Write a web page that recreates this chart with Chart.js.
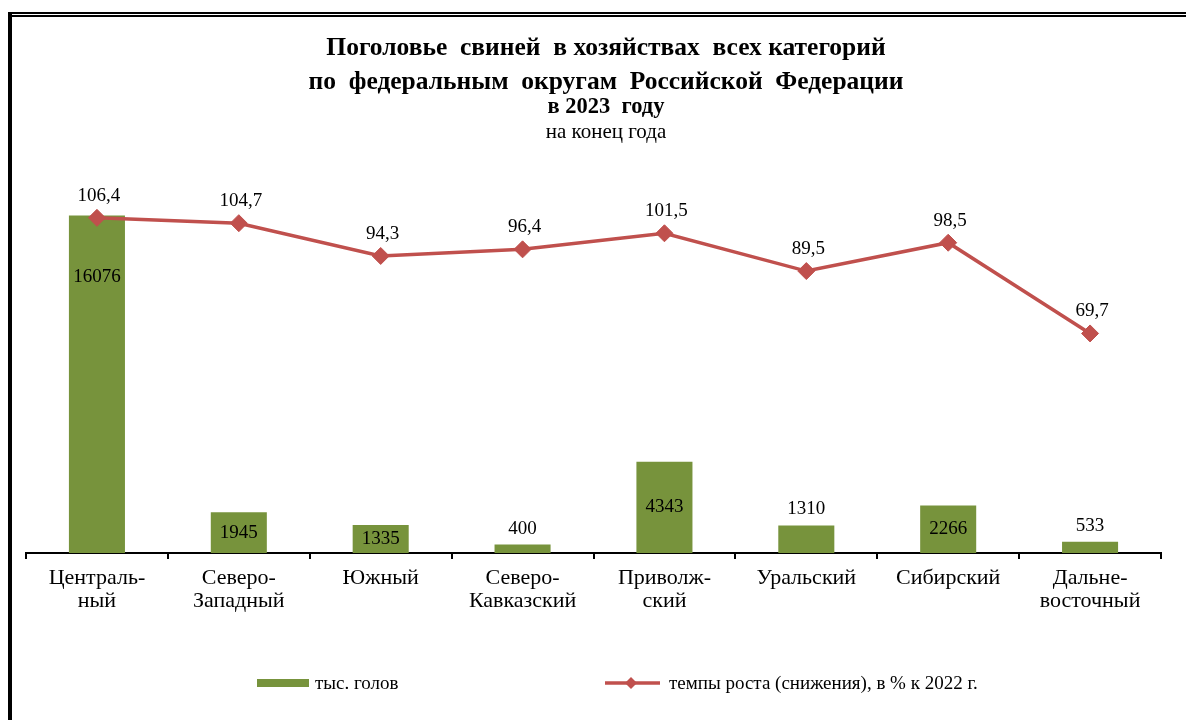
<!DOCTYPE html>
<html>
<head>
<meta charset="utf-8">
<script src="https://cdn.jsdelivr.net/npm/chart.js@4/dist/chart.umd.min.js"></script>
<style>
  html, body { margin: 0; padding: 0; background: #fff; }
  #wrap { position: relative; width: 1186px; height: 720px; overflow: hidden; }
  canvas { position: absolute; left: 0; top: 0; }
  .fr { position: absolute; background: #000; }
</style>
</head>
<body>
<div id="wrap">
  <canvas id="c" width="1186" height="720"></canvas>
  <div class="fr" style="left:8px; top:12px; width:1178px; height:1.5px;"></div>
  <div class="fr" style="left:8px; top:15px; width:1178px; height:2px;"></div>
  <div class="fr" style="left:8px; top:12px; width:4px; height:708px;"></div>
</div>
<script>
const categories = [
  ['Централь-', 'ный'],
  ['Северо-', 'Западный'],
  ['Южный'],
  ['Северо-', 'Кавказский'],
  ['Приволж-', 'ский'],
  ['Уральский'],
  ['Сибирский'],
  ['Дальне-', 'восточный']
];
const headsThousand = [16076, 1945, 1335, 400, 4343, 1310, 2266, 533];
const growthPercent = [106.4, 104.7, 94.3, 96.4, 101.5, 89.5, 98.5, 69.7];
const seriesNames = ['тыс. голов', 'темпы роста (снижения), в % к 2022 г.'];
const titleLines = [
  'Поголовье  свиней  в хозяйствах  всех категорий',
  'по  федеральным  округам  Российской  Федерации',
  'в 2023  году',
  'на конец года'
];
// where each bar's value label sits
const barLabelPlacement = ['inner', 'center', 'center', 'above', 'center', 'above', 'center', 'above'];

const GREEN = '#77933C';
const RED = '#C0504D';
const FONT = '"Liberation Serif", "Times New Roman", serif';

const fmt = v => String(v).replace('.', ',');

const overlay = {
  id: 'overlay',
  afterDatasetsDraw(chart) {
    const ctx = chart.ctx;
    ctx.save();
    ctx.fillStyle = '#000';
    ctx.textAlign = 'center';
    ctx.textBaseline = 'middle';
    ctx.font = '19px ' + FONT;
    const barMeta = chart.getDatasetMeta(1);
    barMeta.data.forEach((el, i) => {
      const p = barLabelPlacement[i];
      let y;
      if (p === 'above') y = el.y - 16;
      else if (p === 'inner') y = el.y + 62;
      else y = (el.y + el.base) / 2;
      ctx.fillText(String(headsThousand[i]), el.x, y);
    });
    const lineMeta = chart.getDatasetMeta(0);
    lineMeta.data.forEach((el, i) => {
      ctx.fillText(fmt(growthPercent[i]), el.x + 2, el.y - 22);
    });
    ctx.restore();
  },
  afterDraw(chart) {
    const ctx = chart.ctx;
    ctx.save();
    ctx.fillStyle = '#000';
    ctx.textAlign = 'center';
    ctx.textBaseline = 'middle';
    const cx = 606;
    ctx.font = 'bold 25.5px ' + FONT;
    ctx.fillText(titleLines[0], cx, 48);
    ctx.fillText(titleLines[1], cx, 82);
    ctx.font = 'bold 22.5px ' + FONT;
    ctx.fillText(titleLines[2], cx, 107);
    ctx.font = '21px ' + FONT;
    ctx.fillText(titleLines[3], cx, 132);

    // legend
    ctx.textAlign = 'left';
    ctx.fillStyle = GREEN;
    ctx.fillRect(257, 679, 52, 8);
    ctx.fillStyle = '#000';
    ctx.font = '19px ' + FONT;
    ctx.fillText(seriesNames[0], 315, 684);
    ctx.strokeStyle = RED;
    ctx.lineWidth = 3.5;
    ctx.beginPath();
    ctx.moveTo(605, 683);
    ctx.lineTo(660, 683);
    ctx.stroke();
    ctx.fillStyle = RED;
    ctx.beginPath();
    ctx.moveTo(631, 677); ctx.lineTo(637, 683); ctx.lineTo(631, 689); ctx.lineTo(625, 683);
    ctx.closePath();
    ctx.fill();
    ctx.fillStyle = '#000';
    ctx.font = '19px ' + FONT;
    ctx.fillText(seriesNames[1], 669, 684);
    ctx.restore();
  }
};

new Chart(document.getElementById('c'), {
  data: {
    labels: categories,
    datasets: [
      {
        type: 'line',
        label: seriesNames[1],
        data: growthPercent,
        yAxisID: 'yLine',
        borderColor: RED,
        backgroundColor: RED,
        borderWidth: 3.5,
        pointStyle: 'rectRot',
        pointRadius: 8.5,
        pointHoverRadius: 8.5,
        pointBorderWidth: 1,
        tension: 0,
        order: 0
      },
      {
        type: 'bar',
        label: seriesNames[0],
        data: headsThousand,
        yAxisID: 'yBar',
        backgroundColor: GREEN,
        borderWidth: 0,
        categoryPercentage: 1,
        barPercentage: 0.395,
        order: 1
      }
    ]
  },
  options: {
    responsive: false,
    animation: false,
    events: [],
    layout: { padding: { top: 175, left: 26, right: 25, bottom: 0 } },
    plugins: { legend: { display: false }, title: { display: false }, tooltip: { enabled: false } },
    scales: {
      x: {
        type: 'category',
        offset: true,
        grid: { display: true, offset: true, drawOnChartArea: false, drawTicks: true, tickLength: 6, color: '#000', lineWidth: 2 },
        border: { display: true, color: '#000', width: 2 },
        ticks: { color: '#000', font: { family: FONT, size: 22, lineHeight: 1.05 }, padding: 8, maxRotation: 0, autoSkip: false },
        afterFit: s => { s.height = 167; }
      },
      yBar: { type: 'linear', display: false, min: 0, max: 18000 },
      yLine: { type: 'linear', display: false, min: 0, max: 120 }
    }
  },
  plugins: [overlay]
});
</script>
</body>
</html>
